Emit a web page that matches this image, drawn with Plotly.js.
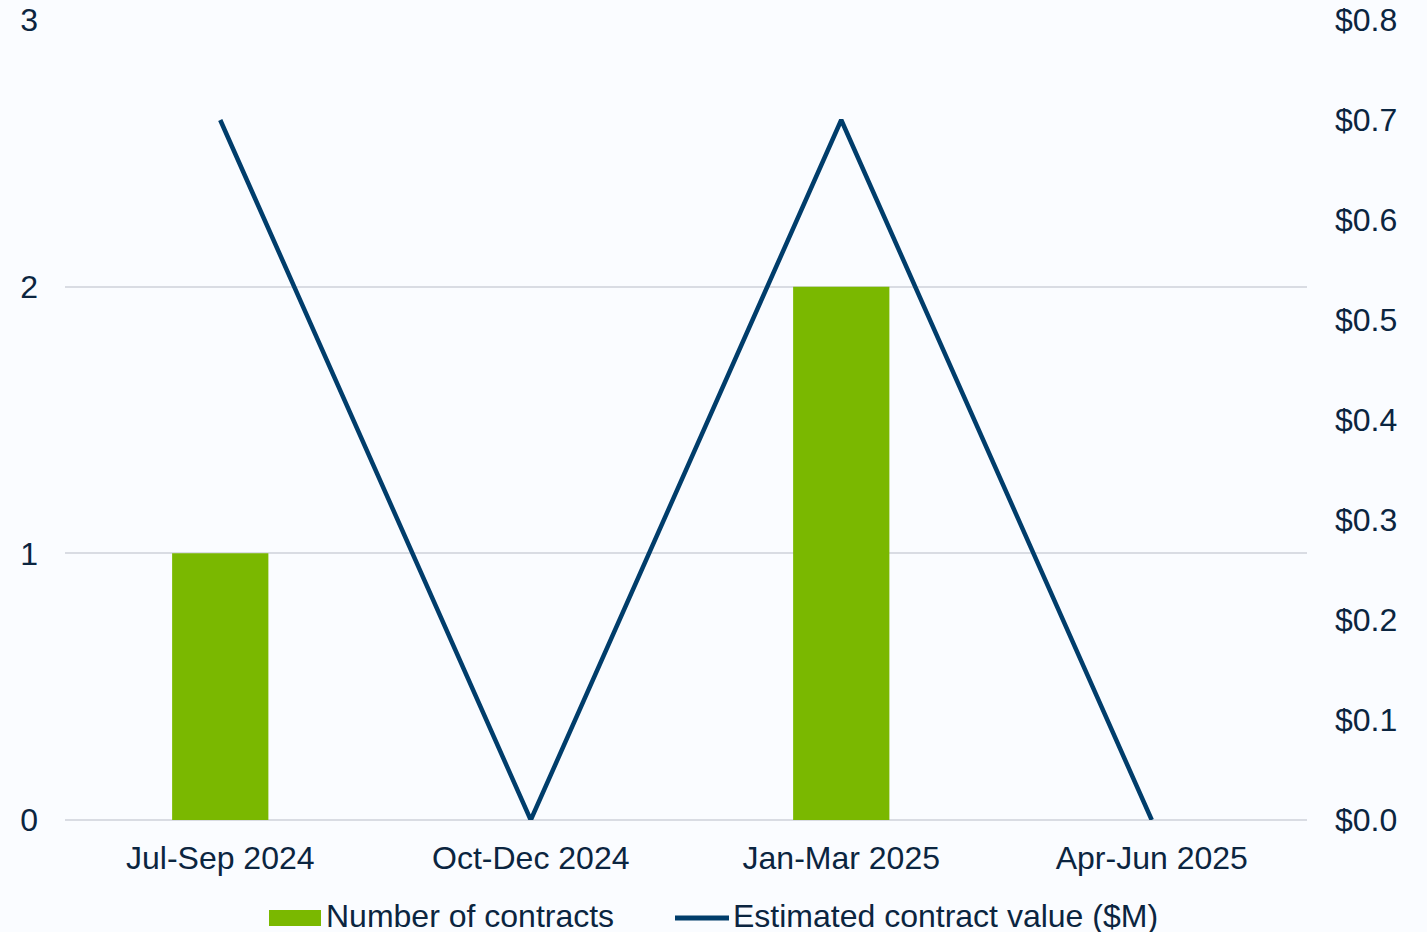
<!DOCTYPE html>
<html>
<head>
<meta charset="utf-8">
<script src="https://cdn.plot.ly/plotly-3.0.1.min.js"></script>
<style>html,body{margin:0;padding:0;background:#FAFCFF;}#chart{width:1427px;height:932px;}</style>
</head>
<body>
<div id="chart"></div>
<script>
const categories = ["Jul-Sep 2024", "Oct-Dec 2024", "Jan-Mar 2025", "Apr-Jun 2025"];
const contractCounts = [1, 0, 2, 0];
const contractValues = [0.7, 0, 0.7, 0];
const seriesNames = ["Number of contracts", "Estimated contract value ($M)"];

const textColor = "#0B2540";
const barColor = "#7AB800";
const lineColor = "#003D6B";
const fontFamily = "'Liberation Sans', Arial, sans-serif";
const fontSize = 32;

const traces = [
  {
    type: "bar",
    x: categories,
    y: contractCounts,
    name: seriesNames[0],
    marker: {color: barColor},
    yaxis: "y",
    hoverinfo: "skip",
    showlegend: false
  },
  {
    type: "scatter",
    mode: "lines",
    x: categories,
    y: contractValues,
    name: seriesNames[1],
    line: {color: lineColor, width: 4.5},
    yaxis: "y2",
    hoverinfo: "skip",
    showlegend: false
  }
];

// Custom legend (paper coordinates; plot area spans x 65..1307 px, y 20..820 px)
const px = v => (v - 65) / 1242;
const py = v => (820 - v) / 800;

const legendShapes = [
  {type: "rect", xref: "paper", yref: "paper", x0: px(269), x1: px(321), y0: py(926), y1: py(910),
   fillcolor: barColor, line: {width: 0}},
  {type: "line", xref: "paper", yref: "paper", x0: px(675), x1: px(729), y0: py(918), y1: py(918),
   line: {color: lineColor, width: 5}}
];
const legendAnnotations = [
  {xref: "paper", yref: "paper", x: px(325), y: py(916), xanchor: "left", yanchor: "middle",
   text: seriesNames[0], showarrow: false, borderpad: 0, font: {family: fontFamily, size: fontSize, color: textColor}},
  {xref: "paper", yref: "paper", x: px(732), y: py(916), xanchor: "left", yanchor: "middle",
   text: seriesNames[1], showarrow: false, borderpad: 0, font: {family: fontFamily, size: fontSize, color: textColor}}
];

const layout = {
  width: 1427,
  height: 932,
  paper_bgcolor: "#FAFCFF",
  plot_bgcolor: "#FAFCFF",
  font: {family: fontFamily, size: fontSize, color: textColor},
  margin: {l: 65, r: 120, t: 20, b: 112},
  bargap: 0.69,
  showlegend: false,
  shapes: legendShapes,
  annotations: legendAnnotations,
  xaxis: {
    type: "category",
    showgrid: false,
    zeroline: false,
    showline: false,
    ticks: "",
    tickfont: {family: fontFamily, size: fontSize, color: textColor},
    ticklabelstandoff: 16
  },
  yaxis: {
    range: [0, 3],
    dtick: 1,
    tick0: 0,
    showgrid: true,
    gridcolor: "#D9DCE3",
    gridwidth: 2,
    zeroline: true,
    zerolinecolor: "#D9DCE3",
    zerolinewidth: 2,
    showline: false,
    ticks: "",
    tickfont: {family: fontFamily, size: fontSize, color: textColor},
    ticklabelstandoff: 26
  },
  yaxis2: {
    overlaying: "y",
    side: "right",
    range: [0, 0.8],
    dtick: 0.1,
    tick0: 0,
    tickformat: "$.1f",
    showgrid: false,
    zeroline: false,
    showline: false,
    ticks: "",
    tickfont: {family: fontFamily, size: fontSize, color: textColor},
    ticklabelstandoff: 27
  }
};

Plotly.newPlot("chart", traces, layout, {displayModeBar: false, staticPlot: true});
</script>
</body>
</html>
